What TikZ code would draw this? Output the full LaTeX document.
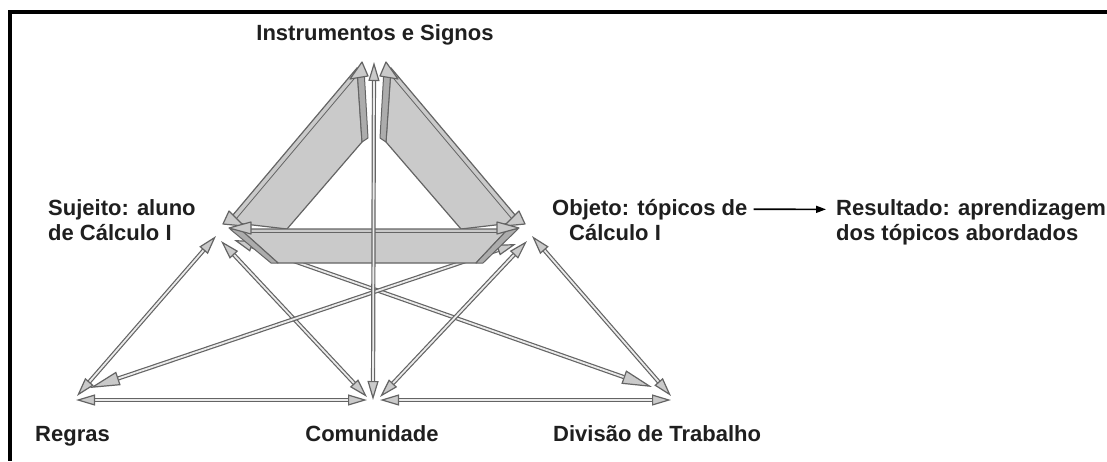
\documentclass[tikz,border=0pt]{standalone}
\usepackage{fontspec}
\setmainfont{Liberation Sans}
\usetikzlibrary{arrows.meta}
\definecolor{edge}{RGB}{100,100,100}
\definecolor{band}{RGB}{202,202,202}
\definecolor{face}{RGB}{172,172,172}
\tikzset{
  lbl/.style={font=\bfseries\fontsize{22}{25}\selectfont, inner sep=0pt, text=black!88},
  link/.style={draw=edge, double=white!92!black, double distance=1.8pt, line width=1.2pt},
  fat/.style={fill=band, draw=edge, line width=1.2pt, line join=round},
  side/.style={fill=face, draw=edge, line width=1pt, line join=round},
  >={Triangle[length=19pt,width=11pt,fill=band]}
}
\begin{document}
\begin{tikzpicture}[x=1pt,y=-1pt]
  \useasboundingbox (0,0) rectangle (1107,461);
  \fill[white] (0,0) rectangle (1107,461);
  \draw[line width=4pt] (1107,12) -- (10,12) -- (10,461);
  % labels
  \node[lbl, anchor=base] (Top) at (375,40) {Instrumentos e Signos};
  \node[lbl, anchor=base west] (Suj1) at (48,215) {Sujeito: aluno};
  \node[lbl, anchor=base west] (Suj2) at (48,240) {de Cálculo I};
  \node[lbl, anchor=base west] (Obj1) at (552,215) {Objeto: tópicos de};
  \node[lbl, anchor=base west] (Obj2) at (569,240) {Cálculo I};
  \node[lbl, anchor=base west] (Res1) at (836,215) {Resultado: aprendizagem};
  \node[lbl, anchor=base west] (Res2) at (836,240) {dos tópicos abordados};
  \node[lbl, anchor=base west] (Reg) at (35,441) {Regras};
  \node[lbl, anchor=base] (Com) at (372,441) {Comunidade};
  \node[lbl, anchor=base west] (Div) at (553,441) {Divisão de Trabalho};
  \draw[-{Triangle[length=10pt,width=7pt]}, line width=1.6pt, shorten <=6pt, shorten >=10pt] (Obj1.east) -- (Res1.west);
  % ends of the links
  \coordinate (I) at (374,62);
  \coordinate (S1) at (216,236);  \coordinate (S2) at (221,241);  \coordinate (S3) at (234,240);
  \coordinate (O1) at (532,236);  \coordinate (O2) at (527,241);  \coordinate (O3) at (516,244);
  \coordinate (R1) at (77,396);   \coordinate (R2) at (76,400);   \coordinate (R3) at (90,388);
  \coordinate (C1) at (367,397);  \coordinate (C2) at (380,397);  \coordinate (C3) at (367,400);
  \coordinate (C4) at (380,400);  \coordinate (C5) at (373,400);
  \coordinate (D1) at (671,396);  \coordinate (D2) at (671,400);  \coordinate (D3) at (652,387);
  \draw[link,<->] (S1) -- (R1);
  \draw[link,<->] (S2) -- (C1);
  \draw[link,<-{Triangle[length=30pt,width=14pt,fill=band]}] (S3) -- (D3);
  \draw[link,<->] (O1) -- (D1);
  \draw[link,<->] (O2) -- (C2);
  \draw[link,<-{Triangle[length=30pt,width=14pt,fill=band]}] (O3) -- (R3);
  \draw[link,<->] (R2) -- (C3);
  \draw[link,<->] (C4) -- (D2);
  % sujeito - instrumentos
  \filldraw[fat] (227,222) -- (357,68) -- (362,142) -- (287,229) -- cycle;
  \draw[edge, line width=0.8pt] (231,225) -- (359,73);
  \filldraw[side] (357,68) -- (364,69) -- (368,138) -- (362,142) -- cycle;
  \filldraw[fat] (350,79) -- (362,62) -- (368,76) -- cycle;
  \filldraw[fat] (223,224) -- (229,211) -- (244,226) -- cycle;
  % objeto - instrumentos
  \filldraw[fat] (521,222) -- (391,68) -- (386,142) -- (461,229) -- cycle;
  \draw[edge, line width=0.8pt] (517,225) -- (389,73);
  \filldraw[side] (391,68) -- (384,69) -- (380,138) -- (386,142) -- cycle;
  \filldraw[fat] (398,79) -- (386,62) -- (380,76) -- cycle;
  \filldraw[fat] (525,224) -- (519,211) -- (504,226) -- cycle;
  % sujeito - objeto
  \filldraw[fat] (240,229) -- (508,229) -- (476,263) -- (278,263) -- cycle;
  \draw[edge, line width=0.8pt] (243,232) -- (505,232);
  \filldraw[side] (230,229) -- (240,229) -- (278,263) -- (271,263) -- cycle;
  \filldraw[side] (518,229) -- (508,229) -- (476,263) -- (483,263) -- cycle;
  \filldraw[fat] (229,228) -- (251,222) -- (251,234) -- cycle;
  \filldraw[fat] (519,228) -- (497,222) -- (497,234) -- cycle;
  \draw[link,<->] (C5) -- (I);
\end{tikzpicture}
\end{document}
